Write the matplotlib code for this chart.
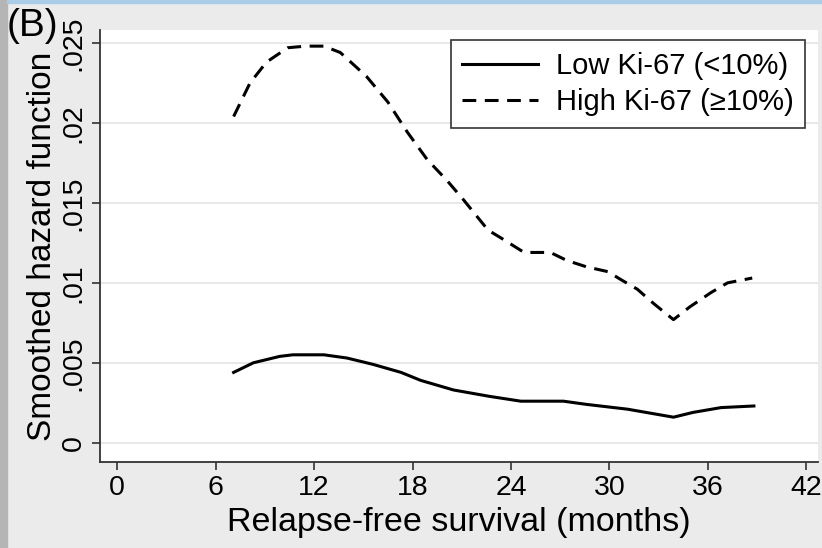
import matplotlib.pyplot as plt
from matplotlib import font_manager
from matplotlib.patches import Rectangle

# smoothed hazard estimates
low_x = [7.1, 8.3, 9.9, 10.7, 12.6, 14.0, 15.6, 17.3, 18.5, 20.5, 22.7, 24.6,
         27.2, 28.6, 31.1, 33.9, 35.1, 36.8, 38.8]
low_y = [0.0044, 0.0050, 0.0054, 0.0055, 0.0055, 0.0053, 0.0049, 0.0044, 0.0039,
         0.0033, 0.0029, 0.0026, 0.0026, 0.0024, 0.0021, 0.0016, 0.0019, 0.0022, 0.0023]

high_x = [7.1, 8.1, 9.1, 10.4, 11.5, 12.6, 13.6, 15.2, 16.5, 17.7, 18.9, 20.1, 21.1,
          22.6, 23.4, 24.8, 26.4, 27.4, 28.6, 29.9, 30.7, 31.7, 32.7, 33.9, 34.9,
          36.2, 37.2, 38.7]
high_y = [0.0204, 0.0225, 0.0238, 0.0247, 0.0248, 0.0248, 0.0244, 0.0229, 0.0213,
          0.0194, 0.0177, 0.0164, 0.0152, 0.0133, 0.0128, 0.0119, 0.0119, 0.0114,
          0.0110, 0.0107, 0.0102, 0.0096, 0.0087, 0.0077, 0.0085, 0.0094, 0.0100, 0.0103]

x_ticks = [0, 6, 12, 18, 24, 30, 36, 42]
y_ticks = [0, 0.005, 0.01, 0.015, 0.02, 0.025]
y_labels = ['0', '.005', '.01', '.015', '.02', '.025']

names = {f.name for f in font_manager.fontManager.ttflist}
fam = 'Liberation Sans Narrow' if 'Liberation Sans Narrow' in names else 'Liberation Sans'
plt.rcParams['font.family'] = [fam, 'DejaVu Sans']

fig = plt.figure(figsize=(8.22, 5.48), dpi=100, facecolor='#ebebeb')
# frame strips at left and top edge
fig.patches.append(Rectangle((0, 0), 0.008, 1, transform=fig.transFigure,
                             color='#b5b5b5', zorder=-1))
fig.patches.append(Rectangle((0.008, 0.994), 0.992, 0.006, transform=fig.transFigure,
                             color='#a9cde6', zorder=-1))

ax = fig.add_axes([0.1217, 0.157, 0.8733, 0.788])
ax.set_facecolor('white')

for yt in y_ticks:
    ax.axhline(yt, color='#e4e4e4', lw=1.2, zorder=0)

ax.plot(low_x, low_y, color='black', lw=2.2, label='Low Ki-67 (<10%)')
ax.plot(high_x, high_y, color='black', lw=2.2, dashes=(4.5, 2.8), label='High Ki-67 (≥10%)')

ax.set_xlim(-1.04, 42.7)
ax.set_ylim(-0.0012, 0.0258)
ax.set_xticks(x_ticks)
ax.set_xticklabels([str(t) for t in x_ticks], fontsize=20.5)
ax.set_yticks(y_ticks)
ax.set_yticklabels(y_labels, fontsize=20.5, rotation=90, va='center')
ax.tick_params(length=6, width=1.2, color='#333333')

for s in ['top', 'right']:
    ax.spines[s].set_visible(False)
for s in ['left', 'bottom']:
    ax.spines[s].set_linewidth(1.3)
    ax.spines[s].set_color('#333333')

ax.set_xlabel('Relapse-free survival (months)', fontsize=24.5, labelpad=4)
ax.set_ylabel('Smoothed hazard function', fontsize=24, labelpad=2)

leg = ax.legend(loc='upper right', fontsize=21, frameon=True, fancybox=False,
                handlelength=2.6, handletextpad=0.6, borderpad=0.4, labelspacing=0.3,
                borderaxespad=0, bbox_to_anchor=(0.982, 0.977))
leg.get_frame().set_edgecolor('black')
leg.get_frame().set_linewidth(1.2)

fig.text(0.008, 0.985, '(B)', fontsize=28, ha='left', va='top')

fig.savefig('out.png', dpi=100, facecolor=fig.get_facecolor())
